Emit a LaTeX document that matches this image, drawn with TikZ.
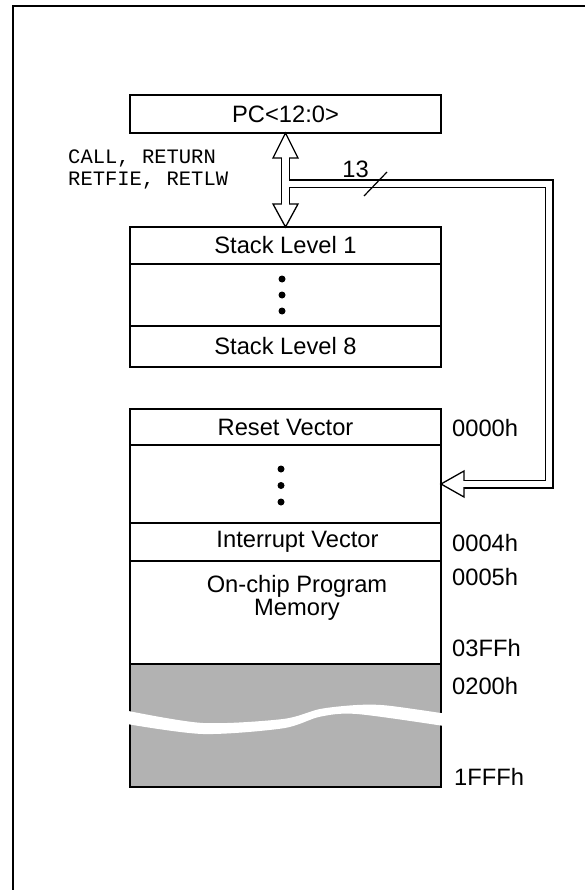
\documentclass[tikz,border=0pt]{standalone}
\usepackage{fontspec}
\setmainfont{Liberation Sans}
\newfontfamily\monofont{Liberation Mono}
\usetikzlibrary{calc, positioning}

\tikzset{
  cell/.style={draw, line width=1.2pt, rectangle, minimum width=311pt, inner sep=0pt,
    outer sep=0pt, anchor=north west, font=\fontsize{23.7}{24}\selectfont},
  addr/.style={font=\fontsize{23.7}{24}\selectfont, anchor=west, inner sep=0pt},
  opcodes/.style={font=\monofont\fontsize{20.5}{22}\selectfont, align=left, anchor=west, inner sep=0pt},
  bus/.style={line width=9pt},
  businner/.style={white, line width=6.4pt},
  bushead/.style={fill=white, draw=black, line width=1.3pt, line join=miter},
}

\begin{document}
\begin{tikzpicture}[x=1pt, y=-1pt]
  \useasboundingbox (0,0) rectangle (585,890);
  \clip (0,0) rectangle (585,890);
  \draw[line width=2.5pt] (13,900) -- (13,6) -- (600,6);

  % PC and stack
  \node[cell, minimum height=38pt] (pc) at (130,95) {PC<12:0>};
  \node[cell, minimum height=37pt] (stk1) at (130,227) {Stack Level 1};
  \node[cell, minimum height=62pt, below=0pt of stk1] (sdots) {};
  \node[cell, minimum height=41pt, below=0pt of sdots] (stk8) {Stack Level 8};
  \foreach \dy in {-16,0,16}
    \fill ($(sdots.center)+(-3.5,\dy)$) circle (3.5pt);

  \node[opcodes] (ops) at (68,169) {CALL, RETURN\\RETFIE, RETLW};

  % program memory map
  \node[cell, minimum height=36pt] (reset) at (130,409) {Reset Vector};
  \node[cell, minimum height=78pt, below=0pt of reset] (mdots) {};
  \node[cell, minimum height=38pt, below=0pt of mdots] (irq) {};
  \node[cell, minimum height=103pt, below=0pt of irq] (onchip) {};
  \node[cell, minimum height=123pt, fill=black!30, below=0pt of onchip] (ext) {};
  \foreach \dy in {-16.5,0,16.5}
    \fill ($(mdots.center)+(-4.5,\dy+1.5)$) circle (3.5pt);
  \node[inner sep=0pt, font=\fontsize{23.7}{24}\selectfont] (irqtxt)
    at ($(irq.center)+(12,0)$) {Interrupt Vector};
  \node[align=center, inner sep=0pt, font=\fontsize{23.7}{23}\selectfont] (onchiptxt)
    at (297,598) {On-chip Program\\Memory};

  % break in the unimplemented space
  \fill[white] plot[smooth] coordinates {(127,710.7) (203,723) (283,719) (320,709)
      (357,705) (387,705.5) (444,713.5)}
    -- plot[smooth] coordinates {(444,726) (357,714) (320,716.7) (283,728.3)
      (203,734) (127,724)} -- cycle;

  \node[addr] (a0000) at (452,428) {0000h};
  \node[addr] (a0004) at (452,543) {0004h};
  \node[addr] (a0005) at (452,577) {0005h};
  \node[addr] (a03ff) at (452,648) {03FFh};
  \node[addr] (a0200) at (452,686) {0200h};
  \node[addr] (a1fff) at (454,777) {1FFFh};

  % PC <-> stack bus and PC -> memory bus
  \coordinate (branch) at ($(pc.south)+(0,51)$);
  \coordinate (bend) at (549,184);
  \draw[bus] ($(pc.south)+(0,23)$) -- ($(stk1.north)+(0,-21)$);
  \draw[bus] (branch) -- (bend) -- (bend |- mdots.east) -- ($(mdots.east)+(21,0)$);
  \draw[bushead] (pc.south) -- ++(12.5,25) -- ++(-25,0) -- cycle;
  \draw[bushead] (stk1.north) -- ++(12.5,-23) -- ++(-25,0) -- cycle;
  \draw[bushead] (mdots.east) -- ++(23,-13) -- ++(0,26) -- cycle;
  \draw[businner] ($(pc.south)+(0,24)$) -- ($(stk1.north)+(0,-22)$);
  \draw[businner] (branch) -- (bend) -- (bend |- mdots.east) -- ($(mdots.east)+(22,0)$);

  \node[addr, anchor=center] (width) at (355.5,169) {13};
  \draw[line width=1.2pt] (364,196) -- (387,172);
\end{tikzpicture}
\end{document}
